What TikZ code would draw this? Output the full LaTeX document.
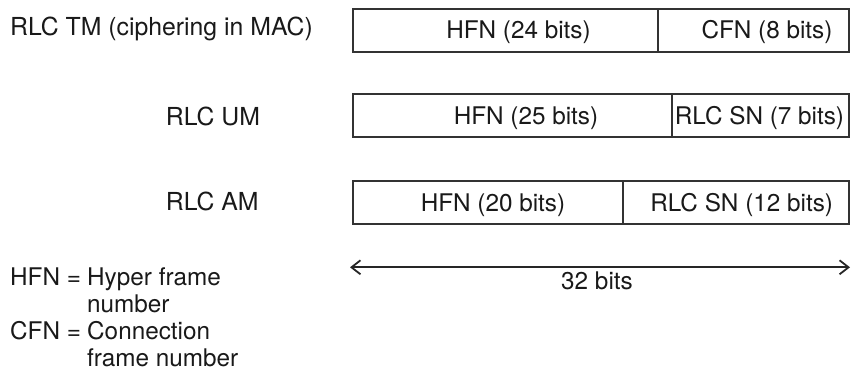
\documentclass[tikz,border=0pt]{standalone}
\usepackage{fontspec}
\setmainfont{TeX Gyre Heros}
\usetikzlibrary{arrows.meta}
\begin{document}
\begin{tikzpicture}[x=1pt,y=-1pt,
  every node/.style={font=\fontsize{24.3}{28}\selectfont, text=black!90},
  field/.style={draw=black!80, line width=2pt, minimum height=43pt, inner sep=0pt, anchor=west},
  fieldtext/.style={anchor=base, inner sep=0pt},
  rowlabel/.style={anchor=base west, inner sep=0pt, font=\fontsize{24.8}{28}\selectfont},
  legendtext/.style={anchor=base west, inner sep=0pt},
  span/.style={draw=black!85, line width=1.8pt, {Straight Barb[length=9pt,width=14pt]}-{Straight Barb[length=9pt,width=14pt]}}]
\useasboundingbox (0,0) rectangle (851,370);

% RLC TM: ciphering in MAC
\node[rowlabel] (tmlabel) at (10,35.5) {RLC TM (ciphering in MAC)};
\node[field, minimum width=305.2pt] (tmhfn) at (351.5,30) {};
\node[field, minimum width=191.3pt] (tmcfn) at (656.7,30) {};
\node[fieldtext] (tmhfntext) at (518.5,38.5) {HFN (24 bits)};
\node[fieldtext] (tmcfntext) at (767,38.5) {CFN (8 bits)};

% RLC UM
\node[rowlabel] (umlabel) at (165.7,125.3) {RLC UM};
\node[field, minimum width=319.5pt] (umhfn) at (351.5,115.3) {};
\node[field, minimum width=177pt] (umsn) at (671,115.3) {};
\node[fieldtext] (umhfntext) at (526,124) {HFN (25 bits)};
\node[fieldtext] (umsntext) at (759.5,124) {RLC SN (7 bits)};

% RLC AM
\node[rowlabel] (amlabel) at (165.7,210.3) {RLC AM};
\node[field, minimum width=270.8pt] (amhfn) at (351.5,202.7) {};
\node[field, minimum width=225.7pt] (amsn) at (622.3,202.7) {};
\node[fieldtext] (amhfntext) at (493,211) {HFN (20 bits)};
\node[fieldtext] (amsntext) at (741.7,211) {RLC SN (12 bits)};

% total width
\coordinate (spanl) at (350,267.3);
\coordinate (spanr) at (850,267.3);
\draw[span] (spanl) -- (spanr);
\node[fieldtext] (spantext) at (597,289) {32 bits};

% legend
\node[legendtext] (hfnterm) at (10,285.7) {HFN =};
\node[legendtext] (hfndef1) at (87,285.7) {Hyper frame};
\node[legendtext] (hfndef2) at (87,312.8) {number};
\node[legendtext] (cfnterm) at (10,339.8) {CFN =};
\node[legendtext] (cfndef1) at (87,339.8) {Connection};
\node[legendtext] (cfndef2) at (87,366.3) {frame number};
\end{tikzpicture}
\end{document}
